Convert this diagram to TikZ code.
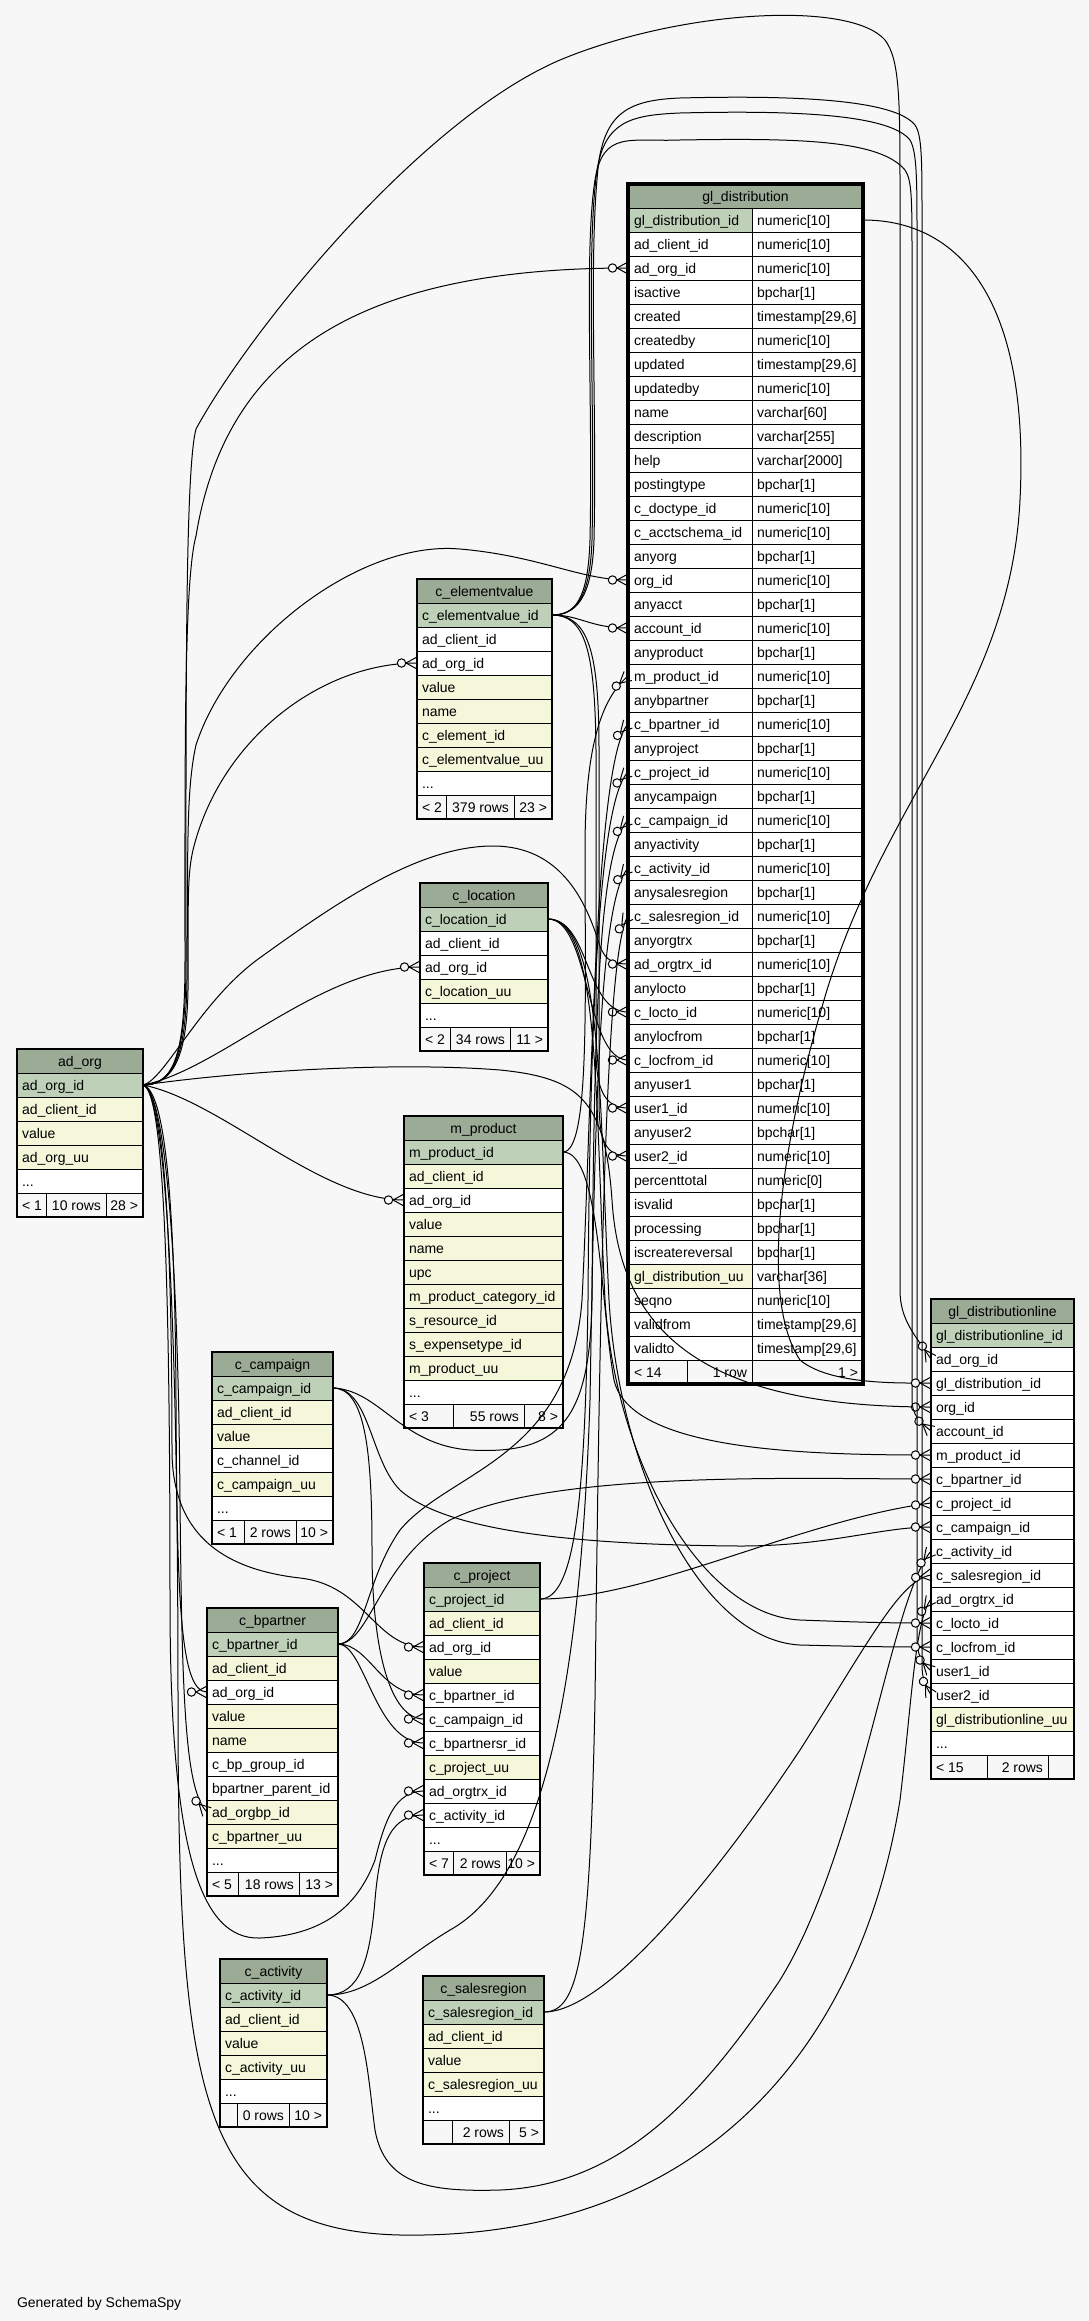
\documentclass[tikz,border=0pt]{standalone}
\usepackage{fontspec}
\setmainfont{Liberation Sans}
\usetikzlibrary{arrows.meta}
\definecolor{bgc}{HTML}{F7F7F7}
\definecolor{hdc}{HTML}{9BAB96}
\definecolor{pkc}{HTML}{BED1B8}
\definecolor{ixc}{HTML}{F4F7DA}
\definecolor{wtc}{HTML}{FFFFFF}
\pgfdeclarearrow{
  name = Crow,
  setup code = {
    \pgfarrowssettipend{0pt}
    \pgfarrowssetlineend{0pt}
    \pgfarrowssetbackend{-20pt}
    \pgfarrowssetvisualbackend{-20pt}
  },
  drawing code = {
    \pgfsetdash{}{0pt}
    \pgfsetlinewidth{1pt}
    \pgfpathmoveto{\pgfqpoint{0pt}{6pt}}
    \pgfpathlineto{\pgfqpoint{-11pt}{0pt}}
    \pgfpathlineto{\pgfqpoint{0pt}{-6pt}}
    \pgfusepathqstroke
    \pgfsetfillcolor{bgc}
    \pgfpathcircle{\pgfqpoint{-15.5pt}{0pt}}{4.2pt}
    \pgfusepathqfillstroke
  }
}
\tikzset{
  cellbox/.style={draw=black,line width=1pt,rectangle,inner sep=0pt,outer sep=0pt,minimum height=24},
  hdrbox/.style={cellbox,fill=hdc},
  lbl/.style={inner sep=0pt,outer sep=0pt,font=\fontsize{14}{16}\selectfont},
  fk/.style={draw=black,line width=1pt,-Crow},
}
\newcommand\tbl[6]{%
  \node[hdrbox,minimum width=#4,anchor=north west] (#1-hdr) at (#2,#3) {};
  \node[lbl,anchor=base] at ([yshift=-17pt]#1-hdr.north) {#5};
  \foreach \f/\n [count=\i from 0] in {#6} {
    \node[cellbox,fill=\f,minimum width=#4,anchor=north west] (#1-\n) at (#2,{#3+24+24*\i}) {};
    \node[lbl,anchor=base west] at ([xshift=5pt,yshift=-17pt]#1-\n.north west) {\detokenize\expandafter{\n}};
  }
}
\newcommand\etcrow[4]{%
  \node[cellbox,fill=wtc,minimum width=#4,anchor=north west] (#1-etc) at (#2,#3) {};
  \node[lbl,anchor=base west] at ([xshift=5pt,yshift=-17pt]#1-etc.north west) {...};
}
\newcommand\ftr[9]{%
  \node[cellbox,fill=bgc,minimum width=#4,anchor=north west] (#1-f1) at (#2,#3) {};
  \node[cellbox,fill=bgc,minimum width=#5,anchor=north west] (#1-f2) at (#1-f1.north east) {};
  \node[cellbox,fill=bgc,minimum width=#6,anchor=north west] (#1-f3) at (#1-f2.north east) {};
  \node[lbl,anchor=base west] at ([xshift=5pt,yshift=-17pt]#1-f1.north west) {#7};
  \node[lbl,anchor=base east] at ([xshift=-5pt,yshift=-17pt]#1-f2.north east) {#8};
  \node[lbl,anchor=base east] at ([xshift=-5pt,yshift=-17pt]#1-f3.north east) {#9};
  \draw[line width=2pt] (#1-hdr.north west) rectangle (#1-f3.south east);
}
\begin{document}
\begin{tikzpicture}[x=1pt,y=-1pt]
\useasboundingbox (0,0) rectangle (1089,2321);
\fill[bgc] (0,0) rectangle (1089,2321);

% ---------- tables ----------
\tbl{ao}{17}{1049}{126}{ad\_org}{pkc/ad_org_id,ixc/ad_client_id,ixc/value,ixc/ad_org_uu}
\etcrow{ao}{17}{1169}{126}
\ftr{ao}{17}{1193}{29}{60}{37}{< 1}{10 rows}{28 >}

\tbl{ev}{417}{579}{135}{c\_elementvalue}{pkc/c_elementvalue_id,wtc/ad_client_id,wtc/ad_org_id,ixc/value,ixc/name,ixc/c_element_id,ixc/c_elementvalue_uu}
\etcrow{ev}{417}{771}{135}
\ftr{ev}{417}{795}{29}{68}{38}{< 2}{379 rows}{23 >}

\tbl{loc}{420}{883}{128}{c\_location}{pkc/c_location_id,wtc/ad_client_id,wtc/ad_org_id,ixc/c_location_uu}
\etcrow{loc}{420}{1003}{128}
\ftr{loc}{420}{1027}{30}{60}{38}{< 2}{34 rows}{11 >}

\tbl{mp}{404}{1116}{159}{m\_product}{pkc/m_product_id,ixc/ad_client_id,wtc/ad_org_id,ixc/value,ixc/name,ixc/upc,ixc/m_product_category_id,ixc/s_resource_id,ixc/s_expensetype_id,ixc/m_product_uu}
\etcrow{mp}{404}{1380}{159}
\ftr{mp}{404}{1404}{49}{71}{39}{< 3}{55 rows}{8 >}

\tbl{cam}{212}{1352}{121}{c\_campaign}{pkc/c_campaign_id,ixc/ad_client_id,ixc/value,wtc/c_channel_id,ixc/c_campaign_uu}
\etcrow{cam}{212}{1496}{121}
\ftr{cam}{212}{1520}{32}{52}{37}{< 1}{2 rows}{10 >}

\tbl{bp}{207}{1608}{131}{c\_bpartner}{pkc/c_bpartner_id,ixc/ad_client_id,wtc/ad_org_id,ixc/value,ixc/name,wtc/c_bp_group_id,wtc/bpartner_parent_id,ixc/ad_orgbp_id,ixc/c_bpartner_uu}
\etcrow{bp}{207}{1848}{131}
\ftr{bp}{207}{1872}{31}{61}{39}{< 5}{18 rows}{13 >}

\tbl{prj}{424}{1563}{116}{c\_project}{pkc/c_project_id,ixc/ad_client_id,wtc/ad_org_id,ixc/value,wtc/c_bpartner_id,wtc/c_campaign_id,wtc/c_bpartnersr_id,ixc/c_project_uu,wtc/ad_orgtrx_id,wtc/c_activity_id}
\etcrow{prj}{424}{1827}{116}
\ftr{prj}{424}{1851}{29}{53}{34}{< 7}{2 rows}{10 >}

\tbl{act}{220}{1959}{107}{c\_activity}{pkc/c_activity_id,ixc/ad_client_id,ixc/value,ixc/c_activity_uu}
\etcrow{act}{220}{2079}{107}
\ftr{act}{220}{2103}{17}{52}{38}{}{0 rows}{10 >}

\tbl{sr}{423}{1976}{121}{c\_salesregion}{pkc/c_salesregion_id,ixc/ad_client_id,ixc/value,ixc/c_salesregion_uu}
\etcrow{sr}{423}{2096}{121}
\ftr{sr}{423}{2120}{29}{57}{35}{}{2 rows}{5 >}

\tbl{gdl}{931}{1299}{143}{gl\_distributionline}{pkc/gl_distributionline_id,wtc/ad_org_id,wtc/gl_distribution_id,wtc/org_id,wtc/account_id,wtc/m_product_id,wtc/c_bpartner_id,wtc/c_project_id,wtc/c_campaign_id,wtc/c_activity_id,wtc/c_salesregion_id,wtc/ad_orgtrx_id,wtc/c_locto_id,wtc/c_locfrom_id,wtc/user1_id,wtc/user2_id,ixc/gl_distributionline_uu}
\etcrow{gdl}{931}{1731}{143}
\ftr{gdl}{931}{1755}{56}{61}{26}{< 15}{2 rows}{}

% gl_distribution (two columns)
\node[hdrbox,minimum width=235,anchor=north west] (gd-hdr) at (628,184) {};
\node[lbl,anchor=base] at ([yshift=-17pt]gd-hdr.north) {gl\_distribution};
\foreach \f/\n/\ty [count=\i from 0] in {
 pkc/gl_distribution_id/{numeric[10]},wtc/ad_client_id/{numeric[10]},wtc/ad_org_id/{numeric[10]},
 wtc/isactive/{bpchar[1]},wtc/created/{timestamp[29,6]},wtc/createdby/{numeric[10]},
 wtc/updated/{timestamp[29,6]},wtc/updatedby/{numeric[10]},wtc/name/{varchar[60]},
 wtc/description/{varchar[255]},wtc/help/{varchar[2000]},wtc/postingtype/{bpchar[1]},
 wtc/c_doctype_id/{numeric[10]},wtc/c_acctschema_id/{numeric[10]},wtc/anyorg/{bpchar[1]},
 wtc/org_id/{numeric[10]},wtc/anyacct/{bpchar[1]},wtc/account_id/{numeric[10]},
 wtc/anyproduct/{bpchar[1]},wtc/m_product_id/{numeric[10]},wtc/anybpartner/{bpchar[1]},
 wtc/c_bpartner_id/{numeric[10]},wtc/anyproject/{bpchar[1]},wtc/c_project_id/{numeric[10]},
 wtc/anycampaign/{bpchar[1]},wtc/c_campaign_id/{numeric[10]},wtc/anyactivity/{bpchar[1]},
 wtc/c_activity_id/{numeric[10]},wtc/anysalesregion/{bpchar[1]},wtc/c_salesregion_id/{numeric[10]},
 wtc/anyorgtrx/{bpchar[1]},wtc/ad_orgtrx_id/{numeric[10]},wtc/anylocto/{bpchar[1]},
 wtc/c_locto_id/{numeric[10]},wtc/anylocfrom/{bpchar[1]},wtc/c_locfrom_id/{numeric[10]},
 wtc/anyuser1/{bpchar[1]},wtc/user1_id/{numeric[10]},wtc/anyuser2/{bpchar[1]},
 wtc/user2_id/{numeric[10]},wtc/percenttotal/{numeric[0]},wtc/isvalid/{bpchar[1]},
 wtc/processing/{bpchar[1]},wtc/iscreatereversal/{bpchar[1]},ixc/gl_distribution_uu/{varchar[36]},
 wtc/seqno/{numeric[10]},wtc/validfrom/{timestamp[29,6]},wtc/validto/{timestamp[29,6]}} {
  \node[cellbox,fill=\f,minimum width=124,anchor=north west] (gd-\n) at (628,{208+24*\i}) {};
  \node[cellbox,fill=wtc,minimum width=111,anchor=north west] (gd-\n-t) at (752,{208+24*\i}) {};
  \node[lbl,anchor=base west] at ([xshift=6pt,yshift=-17pt]gd-\n.north west) {\detokenize\expandafter{\n}};
  \node[lbl,anchor=base west] at ([xshift=5pt,yshift=-17pt]gd-\n-t.north west) {\ty};
}
\node[cellbox,fill=bgc,minimum width=59,anchor=north west] (gd-f1) at (628,1360) {};
\node[cellbox,fill=bgc,minimum width=65,anchor=north west] (gd-f2) at (687,1360) {};
\node[cellbox,fill=bgc,minimum width=111,anchor=north west] (gd-f3) at (752,1360) {};
\node[lbl,anchor=base west] at ([xshift=6pt,yshift=-17pt]gd-f1.north west) {< 14};
\node[lbl,anchor=base east] at ([xshift=-5pt,yshift=-17pt]gd-f2.north east) {1 row};
\node[lbl,anchor=base east] at ([xshift=-5pt,yshift=-17pt]gd-f3.north east) {1 >};
\draw[line width=3.5pt] (gd-hdr.north west) rectangle (gd-f3.south east);

\node[lbl,anchor=base west] (gen) at (17,2307) {Generated by SchemaSpy};

% ---------- connectors ----------
% from ad_org
\draw[fk] (ao-ad_org_id.east) .. controls (176,1085) and (186,1050) .. (186,960) .. controls (186,700) and (185,470) .. (196,429) .. controls (250,330) and (420,120) .. (560,60) .. controls (680,10) and (850,0) .. (885,40) .. controls (900,60) and (900,100) .. (900,200) -- (900,1290) .. controls (900,1320) and (915,1335) .. (gdl-ad_org_id.west);
\draw[fk] (ao-ad_org_id.east) .. controls (176,1085) and (185,1050) .. (185,960) .. controls (185,750) and (184,580) .. (196,536) .. controls (225,360) and (350,268) .. (gd-ad_org_id.west);
\draw[fk] (ao-ad_org_id.east) .. controls (176,1085) and (186,1050) .. (187,980) .. controls (188,850) and (186,790) .. (196,745) .. controls (230,640) and (360,540) .. (460,549) .. controls (540,556) and (580,580) .. (gd-org_id.west);
\draw[fk] (ao-ad_org_id.east) .. controls (176,1085) and (187,1050) .. (188,990) .. controls (189,920) and (186,880) .. (193,850) .. controls (220,740) and (320,663) .. (ev-ad_org_id.west);
\draw[fk] (ao-ad_org_id.east) .. controls (165,1080) and (200,1000) .. (261,957) .. controls (340,900) and (420,846) .. (493,846) .. controls (560,846) and (585,900) .. (598,940) .. controls (603,958) and (610,964) .. (gd-ad_orgtrx_id.west);
\draw[fk] (ao-ad_org_id.east) .. controls (220,1070) and (320,967) .. (loc-ad_org_id.west);
\draw[fk] (ao-ad_org_id.east) .. controls (220,1100) and (320,1200) .. (mp-ad_org_id.west);
\draw[fk] (ao-ad_org_id.east) .. controls (250,1070) and (400,1062) .. (500,1070) .. controls (580,1078) and (605,1100) .. (612,1200) .. controls (620,1330) and (700,1407) .. (gdl-org_id.west);
\draw[fk] (ao-ad_org_id.east) .. controls (165,1090) and (175,1200) .. (176,1400) .. controls (177,1600) and (180,1692) .. (bp-ad_org_id.west);
\draw[fk] (ao-ad_org_id.east) .. controls (165,1090) and (178,1250) .. (180,1500) .. controls (182,1700) and (185,1790) .. (bp-ad_orgbp_id.west);
\draw[fk] (ao-ad_org_id.east) .. controls (165,1090) and (172,1250) .. (172,1450) .. controls (172,1540) and (230,1570) .. (300,1578) .. controls (365,1585) and (375,1647) .. (prj-ad_org_id.west);
\draw[fk] (ao-ad_org_id.east) .. controls (165,1090) and (170,1300) .. (170,1600) .. controls (170,1850) and (200,1940) .. (260,1938) .. controls (330,1935) and (360,1900) .. (375,1860) .. controls (385,1820) and (395,1791) .. (prj-ad_orgtrx_id.west);
\draw[fk] (ao-ad_org_id.east) .. controls (165,1090) and (178,1300) .. (178,1700) .. controls (178,2100) and (200,2230) .. (400,2235) .. controls (700,2240) and (860,2050) .. (900,1800) .. controls (912,1700) and (915,1620) .. (gdl-ad_orgtrx_id.west);
% from c_elementvalue
\draw[fk] (ev-c_elementvalue_id.east) .. controls (580,615) and (590,628) .. (gd-account_id.west);
\draw[fk] (ev-c_elementvalue_id.east) .. controls (585,615) and (595,650) .. (596,750) -- (596,1050) .. controls (596,1090) and (605,1108) .. (gd-user1_id.west);
\draw[fk] (ev-c_elementvalue_id.east) .. controls (588,615) and (599,650) .. (599,750) -- (599,1100) .. controls (599,1140) and (605,1156) .. (gd-user2_id.west);
\draw[fk] (ev-c_elementvalue_id.east) .. controls (575,615) and (588,600) .. (590,540) .. controls (593,400) and (584,250) .. (595,180) .. controls (603,130) and (630,142) .. (680,140) .. controls (800,138) and (880,140) .. (905,170) .. controls (912,180) and (912,200) .. (912,260) -- (912,1400) .. controls (912,1415) and (920,1422) .. (gdl-account_id.west);
\draw[fk] (ev-c_elementvalue_id.east) .. controls (575,615) and (590,600) .. (592,540) .. controls (595,400) and (586,250) .. (597,170) .. controls (605,122) and (630,115) .. (680,113) .. controls (800,110) and (890,115) .. (910,140) .. controls (917,152) and (917,180) .. (917,240) -- (917,1640) .. controls (917,1655) and (922,1662) .. (gdl-user1_id.west);
\draw[fk] (ev-c_elementvalue_id.east) .. controls (575,615) and (592,600) .. (594,540) .. controls (597,400) and (588,250) .. (599,160) .. controls (607,112) and (630,100) .. (680,98) .. controls (800,95) and (895,100) .. (915,125) .. controls (922,135) and (922,160) .. (922,220) -- (922,1665) .. controls (922,1680) and (926,1686) .. (gdl-user2_id.west);
% from c_location
\draw[fk] (loc-c_location_id.east) .. controls (590,919) and (585,1012) .. (gd-c_locto_id.west);
\draw[fk] (loc-c_location_id.east) .. controls (590,919) and (585,1060) .. (gd-c_locfrom_id.west);
\draw[fk] (loc-c_location_id.east) .. controls (600,919) and (595,1100) .. (605,1300) .. controls (615,1460) and (700,1615) .. (800,1620) .. controls (880,1623) and (900,1623) .. (gdl-c_locto_id.west);
\draw[fk] (loc-c_location_id.east) .. controls (603,919) and (599,1100) .. (609,1300) .. controls (619,1470) and (700,1640) .. (800,1645) .. controls (880,1647) and (900,1647) .. (gdl-c_locfrom_id.west);
% from m_product
\draw[fk] (mp-m_product_id.east) .. controls (590,1152) and (585,1000) .. (585,850) .. controls (585,750) and (600,700) .. (gd-m_product_id.west);
\draw[fk] (mp-m_product_id.east) .. controls (600,1152) and (600,1300) .. (614,1380) .. controls (630,1450) and (800,1455) .. (gdl-m_product_id.west);
% from c_campaign
\draw[fk] (cam-c_campaign_id.east) .. controls (380,1390) and (400,1445) .. (470,1450) .. controls (560,1455) and (590,1420) .. (592,1300) .. controls (594,1000) and (600,850) .. (gd-c_campaign_id.west);
\draw[fk] (cam-c_campaign_id.east) .. controls (370,1388) and (370,1460) .. (400,1490) .. controls (450,1535) and (600,1545) .. (740,1546) .. controls (830,1546) and (880,1527) .. (gdl-c_campaign_id.west);
\draw[fk] (cam-c_campaign_id.east) .. controls (365,1388) and (372,1450) .. (372,1550) .. controls (372,1650) and (390,1719) .. (prj-c_campaign_id.west);
% from c_bpartner
\draw[fk] (bp-c_bpartner_id.east) .. controls (365,1644) and (365,1580) .. (400,1530) .. controls (450,1470) and (570,1460) .. (582,1300) .. controls (592,1100) and (595,760) .. (gd-c_bpartner_id.west);
\draw[fk] (bp-c_bpartner_id.east) .. controls (370,1644) and (380,1560) .. (450,1520) .. controls (550,1470) and (800,1479) .. (gdl-c_bpartner_id.west);
\draw[fk] (bp-c_bpartner_id.east) .. controls (370,1644) and (380,1695) .. (prj-c_bpartner_id.west);
\draw[fk] (bp-c_bpartner_id.east) .. controls (365,1644) and (375,1743) .. (prj-c_bpartnersr_id.west);
% from c_project
\draw[fk] (prj-c_project_id.east) .. controls (575,1599) and (585,1500) .. (588,1300) .. controls (590,1000) and (600,800) .. (gd-c_project_id.west);
\draw[fk] (prj-c_project_id.east) .. controls (650,1599) and (800,1520) .. (gdl-c_project_id.west);
% from c_activity
\draw[fk] (act-c_activity_id.east) .. controls (370,1995) and (400,1960) .. (450,1930) .. controls (540,1880) and (580,1700) .. (590,1400) .. controls (595,1100) and (600,900) .. (gd-c_activity_id.west);
\draw[fk] (act-c_activity_id.east) .. controls (365,1995) and (368,2080) .. (375,2130) .. controls (385,2185) and (430,2192) .. (500,2190) .. controls (620,2185) and (700,2100) .. (780,1980) .. controls (860,1850) and (890,1600) .. (gdl-c_activity_id.west);
\draw[fk] (act-c_activity_id.east) .. controls (360,1995) and (370,1960) .. (375,1900) .. controls (380,1840) and (392,1815) .. (prj-c_activity_id.west);
% from c_salesregion
\draw[fk] (sr-c_salesregion_id.east) .. controls (580,2012) and (590,1950) .. (595,1700) .. controls (600,1300) and (605,950) .. (gd-c_salesregion_id.west);
\draw[fk] (sr-c_salesregion_id.east) .. controls (600,2012) and (700,1900) .. (800,1750) .. controls (870,1640) and (900,1580) .. (gdl-c_salesregion_id.west);
% from gl_distribution
\draw[fk] (gd-gl_distribution_id-t.east) .. controls (960,220) and (1030,300) .. (1020,500) .. controls (1010,700) and (880,800) .. (822,1007) .. controls (780,1150) and (760,1300) .. (800,1360) .. controls (830,1385) and (900,1383) .. (gdl-gl_distribution_id.west);
\end{tikzpicture}
\end{document}
